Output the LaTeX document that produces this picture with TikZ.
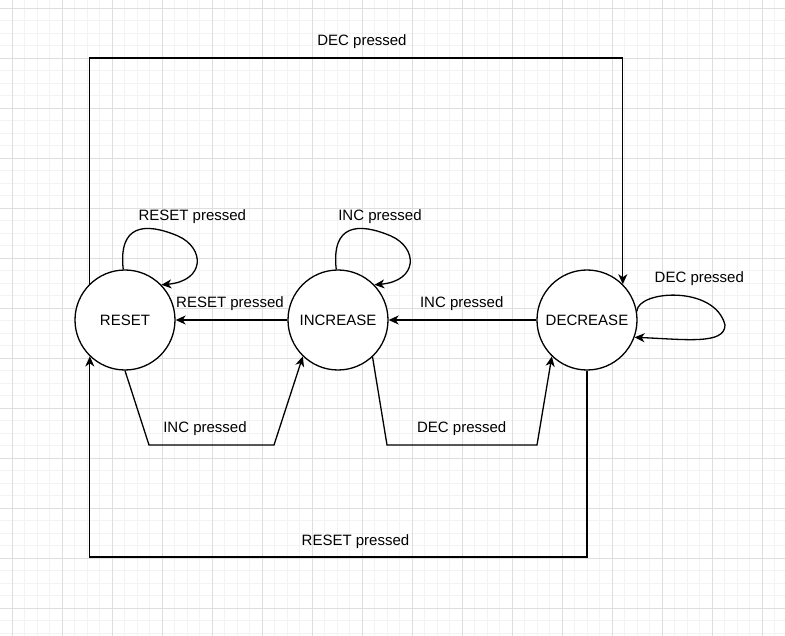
\documentclass[tikz,border=0pt]{standalone}
\usepackage{fontspec}
\setmainfont{Liberation Sans}
\usetikzlibrary{arrows.meta}
\usetikzlibrary{calc}

\definecolor{gridminor}{RGB}{243,243,243}
\definecolor{gridmajor}{RGB}{222,222,222}

\begin{document}
\begin{tikzpicture}[x=1pt, y=-1pt, line width=1.3pt,
    every node/.style={font=\fontsize{15pt}{18pt}\selectfont},
    state/.style={circle, draw=black, fill=white, minimum size=100pt, inner sep=0pt},
    link/.style={draw=black, -{Stealth[length=10pt, width=9pt, inset=3pt]}},
    lbl/.style={anchor=base, inner sep=0pt}]
      % Page size
      \useasboundingbox (0,0) rectangle (785,636);
      \clip (0,0) rectangle (785,636);
      \fill[white] (0,0) rectangle (785,636);
      % Minor grid lines every 12.5 px
      \foreach \k in {0,...,63} {
        \draw[gridminor, line width=0.9pt] ({-0.2+12.5*\k},0) -- ++(0,636);
      }
      \foreach \k in {0,...,52} {
        \draw[gridminor, line width=0.9pt] (0,{-4.2+12.5*\k}) -- ++(785,0);
      }
      % Major grid lines every 50 px
      \foreach \k in {0,...,15} {
        \draw[gridmajor, line width=0.9pt] ({12.3+50*\k},0) -- ++(0,636);
      }
      \foreach \k in {0,...,12} {
        \draw[gridmajor, line width=0.9pt] (0,{8.3+50*\k}) -- ++(785,0);
      }
      % States
      \node[state] (reset) at (125,320) {RESET};
      \node[state] (increase) at (338,320) {INCREASE};
      \node[state] (decrease) at (587,320) {DECREASE};
      % Straight transitions along the middle row
      \draw[link] (increase) -- (reset);
      \draw[link] (decrease) -- (increase);
      % Detours below the states
      \draw[link] (reset.south) -- (149,445) -- (274,445) -- (increase.226);
      \draw[link] (increase.313) -- (387,445) -- (537,445) -- (decrease.226);
      % Outer frame, over the top and under the bottom
      \coordinate (toprow) at (0,58);
      \coordinate (bottomrow) at (0,557);
      \draw[link] (reset.134) -- (reset.134 |- toprow) -| (decrease.45);
      \draw[link] (decrease.south) -- (decrease.south |- bottomrow) -| (reset.226);
      % Self loops on top of RESET and INCREASE
      \foreach \s in {reset, increase} {
        \draw[link] (\s.92) .. controls +(-5,-45) and +(-33,-14) .. ($(\s.center)+(53,-84)$)
          .. controls +(27,12) and +(44,-4) .. (\s.44);
      }
      % Self loop on the right of DECREASE
      \draw[link] (decrease.10) .. controls +(1,-21) and +(-10,-40) .. ($(decrease.center)+(138,5)$)
        .. controls +(0,20) and +(50,2) .. (decrease.-20);
      % Transition labels
      \node[lbl] (lblloopreset) at (192.3,220.7) {RESET pressed};
      \node[lbl] (lblloopinc) at (380,220.7) {INC pressed};
      \node[lbl] (lblloopdec) at (699.3,282.3) {DEC pressed};
      \node[lbl] (lblincreset) at (230,307.3) {RESET pressed};
      \node[lbl] (lbldecinc) at (461.7,307.3) {INC pressed};
      \node[lbl] (lblresetinc) at (205,432.3) {INC pressed};
      \node[lbl] (lblincdec) at (461.7,432.3) {DEC pressed};
      \node[lbl] (lbltop) at (362,45.7) {DEC pressed};
      \node[lbl] (lblbottom) at (355.5,545.7) {RESET pressed};
    \end{tikzpicture}
\end{document}
